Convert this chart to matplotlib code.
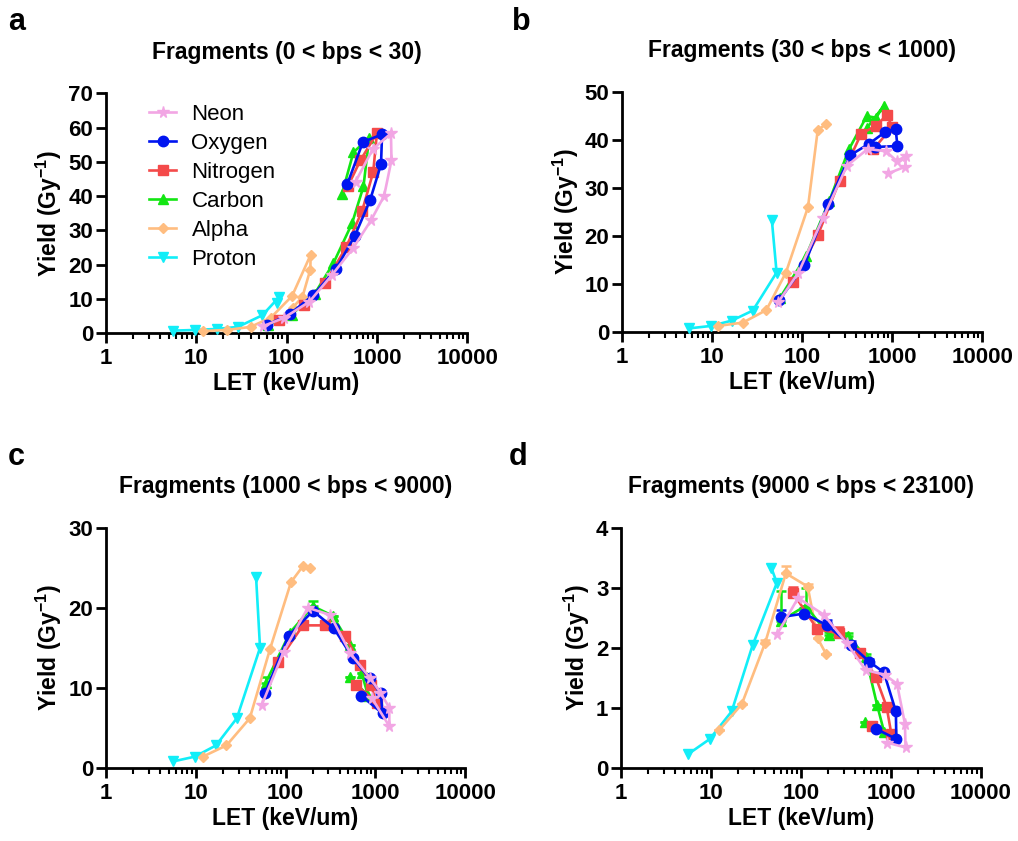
import numpy as np
import matplotlib
matplotlib.use('Agg')
import matplotlib.pyplot as plt

plt.rcParams['font.family'] = ['Liberation Sans', 'DejaVu Sans']
plt.rcParams['mathtext.default'] = 'regular'

# --- data: LET (keV/um) and yield (Gy^-1) per ion and panel ---
ions = ['Neon', 'Oxygen', 'Nitrogen', 'Carbon', 'Alpha', 'Proton']
colors = ['#F2A6E4', '#0015F0', '#F44A4A', '#13E613', '#FFBD80', '#12EEF8']
markers = ['*', 'o', 's', '^', 'D', 'v']
msizes = [8.5, 7.5, 7.5, 7.5, 5, 7.5]

# panel a: 0 < bps < 30
a_neon_let = [55, 93, 178, 317, 542, 860, 1200, 1450, 1430, 900, 580]
a_neon_y = [2.0, 4.4, 9.1, 16.9, 24.7, 32.9, 40.0, 50.5, 58.3, 53.7, 44.2]
a_oxygen_let = [60, 108, 196, 350, 570, 840, 1110, 1140, 700, 470]
a_oxygen_y = [2.3, 5.5, 11.0, 18.6, 28.4, 38.8, 49.3, 58.0, 55.8, 43.5]
a_nitrogen_let = [83, 154, 268, 455, 685, 910, 1000, 655, 478]
a_nitrogen_y = [3.8, 8.2, 14.7, 25.0, 35.6, 47.0, 58.4, 50.4, 42.9]
a_carbon_let = [62, 114, 205, 330, 530, 710, 820, 550, 410]
a_carbon_y = [2.3, 5.4, 11.5, 20.4, 32.0, 42.8, 57.0, 52.8, 40.6]
a_alpha_let = [12, 22, 40, 67, 115, 185, 183, 150, 117]
a_alpha_y = [0.6, 0.9, 1.8, 4.5, 10.8, 22.9, 18.5, 10.6, 7.4]
a_proton_let = [5.6, 9.7, 17, 29, 54, 82, 79]
a_proton_y = [0.7, 0.9, 1.2, 1.8, 5.2, 10.4, 8.7]

# panel b: 30 < bps < 1000
b_neon_let = [54, 91, 170, 314, 535, 850, 1120, 1420, 1390, 900]
b_neon_y = [6.2, 12.4, 23.7, 34.6, 38.1, 37.6, 35.6, 36.6, 34.4, 33.0]
b_oxygen_let = [56, 106, 194, 342, 555, 830, 1090, 1140, 640]
b_oxygen_y = [6.7, 14.0, 26.7, 36.8, 39.2, 41.6, 42.3, 38.7, 38.5]
b_nitrogen_let = [80, 150, 260, 450, 655, 870, 1000, 615]
b_nitrogen_y = [10.5, 20.3, 31.5, 41.2, 42.9, 45.1, 42.7, 38.0]
b_carbon_let = [57, 110, 200, 330, 520, 660, 800, 525]
b_carbon_y = [7.2, 15.8, 27.3, 38.0, 44.9, 44.6, 47.0, 42.5]
b_alpha_let = [11.6, 22, 40, 66, 116, 149, 185]
b_alpha_y = [1.3, 2.0, 4.6, 12.4, 26.0, 42.1, 43.2]
b_proton_let = [5.6, 9.7, 16.5, 28.3, 52, 46]
b_proton_y = [0.8, 1.3, 2.4, 4.5, 12.4, 23.4]

# panel c: 1000 < bps < 9000
c_neon_let = [54.6, 95, 177, 315, 527, 875, 1140, 1430, 1430, 915]
c_neon_y = [7.9, 14.5, 20.0, 19.1, 14.3, 11.2, 9.4, 7.5, 5.2, 8.7]
c_oxygen_let = [59.5, 108, 202, 342, 563, 860, 1150, 1200, 700]
c_oxygen_y = [9.4, 16.5, 19.6, 17.5, 13.7, 11.2, 9.3, 6.8, 9.0]
c_nitrogen_let = [82, 156, 272, 463, 680, 890, 1030, 610]
c_nitrogen_y = [13.2, 17.8, 17.8, 16.5, 12.8, 10.4, 8.1, 10.4]
c_carbon_let = [60, 112, 202, 334, 525, 705, 830, 516]
c_carbon_y = [10.6, 16.9, 20.2, 19.0, 15.4, 11.8, 9.0, 11.4]
c_carbon_err = [0.8, 0, 0.6, 0, 0, 0, 0, 0]
c_alpha_let = [12, 22, 40, 67, 115, 156, 188]
c_alpha_y = [1.4, 2.8, 6.2, 14.8, 23.2, 25.2, 25.0]
c_proton_let = [5.6, 9.8, 16.8, 28.7, 52, 47]
c_proton_y = [0.8, 1.4, 2.8, 6.2, 15.0, 23.8]

# panel d: 9000 < bps < 23100
d_neon_let = [54.5, 93, 180, 322, 524, 855, 1170, 1434, 1455, 906]
d_neon_y = [2.23, 2.83, 2.55, 2.08, 1.63, 1.55, 1.40, 0.73, 0.34, 0.42]
d_oxygen_let = [59.5, 108, 193, 357, 574, 836, 1136, 1150, 681]
d_oxygen_y = [2.51, 2.57, 2.38, 2.05, 1.77, 1.59, 0.94, 0.48, 0.65]
d_oxygen_err = [0.12, 0.1, 0.08, 0.06, 0.05, 0, 0, 0, 0]
d_nitrogen_let = [82, 152, 266, 459, 676, 896, 1010, 610]
d_nitrogen_y = [2.91, 2.31, 2.24, 1.92, 1.52, 1.02, 0.57, 0.69]
d_nitrogen_err = [0.1, 0, 0.1, 0.06, 0, 0, 0, 0]
d_carbon_let = [60, 113, 203, 334, 525, 705, 840, 516]
d_carbon_y = [2.45, 2.70, 2.22, 2.20, 1.85, 1.04, 0.60, 0.76]
d_carbon_err = [0.5, 0.3, 0.04, 0.05, 0.05, 0, 0, 0]
d_alpha_let = [12.4, 22, 40, 68, 119, 153, 190]
d_alpha_y = [0.63, 1.06, 2.08, 3.24, 3.02, 2.16, 1.90]
d_alpha_err = [0, 0, 0.05, 0.12, 0.04, 0, 0]
d_proton_let = [5.6, 9.7, 17, 29, 54, 47]
d_proton_y = [0.23, 0.48, 0.94, 2.04, 3.08, 3.33]

titles = ['Fragments (0 < bps < 30)', 'Fragments (30 < bps < 1000)',
          'Fragments (1000 < bps < 9000)', 'Fragments (9000 < bps < 23100)']
letters = ['a', 'b', 'c', 'd']
ymax = [70, 50, 30, 4]
ystep = [10, 10, 10, 1]

panels = [
    [(a_neon_let, a_neon_y, None), (a_oxygen_let, a_oxygen_y, None),
     (a_nitrogen_let, a_nitrogen_y, None), (a_carbon_let, a_carbon_y, None),
     (a_alpha_let, a_alpha_y, None), (a_proton_let, a_proton_y, None)],
    [(b_neon_let, b_neon_y, None), (b_oxygen_let, b_oxygen_y, None),
     (b_nitrogen_let, b_nitrogen_y, None), (b_carbon_let, b_carbon_y, None),
     (b_alpha_let, b_alpha_y, None), (b_proton_let, b_proton_y, None)],
    [(c_neon_let, c_neon_y, None), (c_oxygen_let, c_oxygen_y, None),
     (c_nitrogen_let, c_nitrogen_y, None), (c_carbon_let, c_carbon_y, c_carbon_err),
     (c_alpha_let, c_alpha_y, None), (c_proton_let, c_proton_y, None)],
    [(d_neon_let, d_neon_y, None), (d_oxygen_let, d_oxygen_y, d_oxygen_err),
     (d_nitrogen_let, d_nitrogen_y, d_nitrogen_err), (d_carbon_let, d_carbon_y, d_carbon_err),
     (d_alpha_let, d_alpha_y, d_alpha_err), (d_proton_let, d_proton_y, None)],
]

positions = [[0.104, 0.604, 0.355, 0.285], [0.611, 0.605, 0.354, 0.286],
             [0.104, 0.087, 0.353, 0.2855], [0.610, 0.087, 0.3535, 0.2855]]
letter_pos = [(0.008, 0.992), (0.503, 0.992), (0.008, 0.475), (0.500, 0.475)]

fig = plt.figure(figsize=(10.18, 8.41), dpi=100)

for p in range(4):
    ax = fig.add_axes(positions[p])
    handles = [None] * 6
    # draw in reverse so Neon ends on top
    for i in reversed(range(6)):
        let, y, err = panels[p][i]
        if err is not None:
            ax.errorbar(let, y, yerr=[np.zeros(len(err)), err], fmt='none',
                        ecolor=colors[i], elinewidth=1.8, capsize=3.5, capthick=1.8, zorder=2 + i * 0.01)
        h, = ax.plot(let, y, color=colors[i], marker=markers[i], markersize=msizes[i],
                     linewidth=1.9, markeredgewidth=1, markeredgecolor=colors[i],
                     label=ions[i], zorder=3 + (6 - i) * 0.1, clip_on=False)
        handles[i] = h

    ax.set_xscale('log')
    ax.set_xlim(1, 10000)
    ax.set_ylim(0, ymax[p])
    ax.set_xticks([1, 10, 100, 1000, 10000])
    ax.set_xticklabels(['1', '10', '100', '1000', '10000'])
    ax.set_yticks(np.arange(0, ymax[p] + 0.01, ystep[p]))
    ax.set_yticklabels([str(int(v)) for v in np.arange(0, ymax[p] + 0.01, ystep[p])])
    ax.spines['top'].set_visible(False)
    ax.spines['right'].set_visible(False)
    ax.spines['left'].set_linewidth(2)
    ax.spines['bottom'].set_linewidth(2)
    ax.tick_params(axis='both', which='major', length=7, width=2, labelsize=16)
    ax.tick_params(axis='x', which='major', pad=4)
    ax.tick_params(axis='y', which='major', pad=2)
    ax.tick_params(axis='x', which='minor', length=4, width=1.5)
    for lab in ax.get_xticklabels() + ax.get_yticklabels():
        lab.set_fontweight('bold')
    ax.set_xlabel('LET (keV/um)', fontsize=16.5, fontweight='bold', labelpad=2)
    ax.set_ylabel('Yield (Gy$^{-1}$)', fontsize=16.5, fontweight='bold', labelpad=3)
    ax.set_title(titles[p], fontsize=16.5, fontweight='bold', pad=25)
    fig.text(letter_pos[p][0], letter_pos[p][1], letters[p], fontsize=22,
             fontweight='bold', va='top', ha='left')

    if p == 0:
        ax.legend(handles=handles, loc='upper left', bbox_to_anchor=(0.12, 0.955),
                  frameon=False, fontsize=16, numpoints=1, handlelength=1.2,
                  handletextpad=0.7, labelspacing=0.36, borderaxespad=0, borderpad=0)

fig.savefig('out.png', dpi=100)
